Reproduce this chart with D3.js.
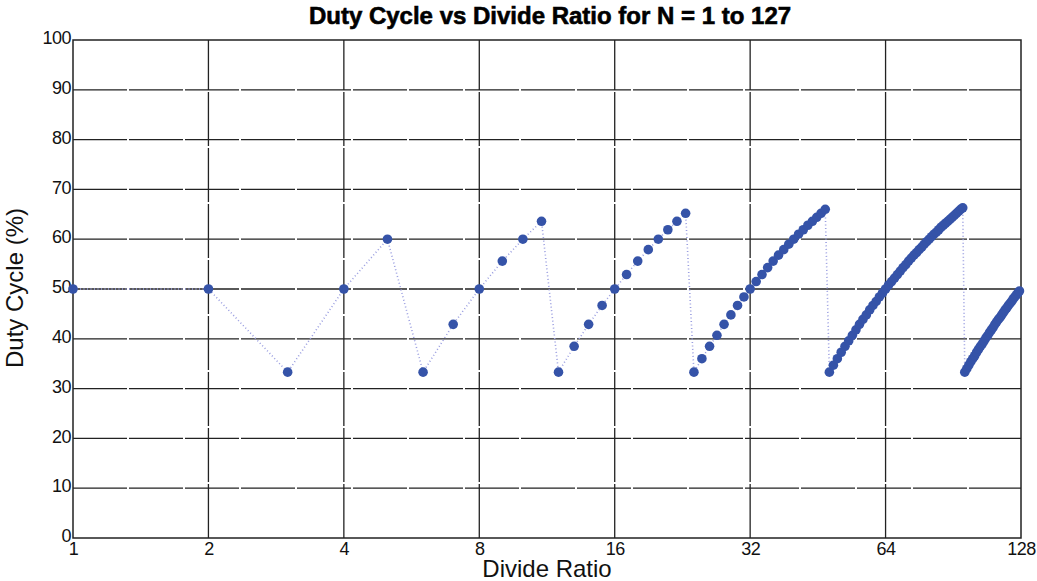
<!DOCTYPE html>
<html><head><meta charset="utf-8">
<script src="https://cdn.jsdelivr.net/npm/d3@7"></script>
<style>
html,body{margin:0;padding:0;background:#fff;}
svg text{font-family:"Liberation Sans",Arial,Helvetica,sans-serif;}
</style></head>
<body><svg id="c" width="1037" height="581"></svg>
<script>
const divideRatio = d3.range(1, 128);
const dutyCycle = [
50,50,33.3,50,60,33.3,42.9,50,55.6,60,63.6,
33.3,38.5,42.9,46.7,50,52.9,55.6,57.9,60,61.9,63.6,65.2,
33.3,36,38.5,40.7,42.9,44.8,46.7,48.4,50,51.5,52.9,54.3,55.6,56.8,57.9,59.0,60,61.0,61.9,62.8,63.6,64.4,65.2,66.0,
33.3,34.7,36,37.3,38.5,39.6,40.7,41.8,42.9,43.9,44.8,45.8,46.7,47.5,48.4,49.2,50,50.8,51.5,52.2,52.9,53.6,54.3,54.9,55.6,56.2,56.8,57.3,57.9,58.4,59.0,59.5,60,60.5,61.0,61.4,61.9,62.4,62.8,63.2,63.6,64.0,64.4,64.8,65.2,65.6,66.0,66.3,
33.3,34.0,34.7,35.4,36,36.6,37.3,37.9,38.5,39.0,39.6,40.2,40.7,41.3,41.8,42.3,42.9,43.4,43.9,44.3,44.8,45.3,45.8,46.2,46.7,47.1,47.5,48.0,48.4,48.8,49.2,49.6
];
const xTicks = [1,2,4,8,16,32,64,128];
const yTicks = [0,10,20,30,40,50,60,70,80,90,100];
const titleText = "Duty Cycle vs Divide Ratio for N = 1 to 127";
const xLabel = "Divide Ratio";
const yLabel = "Duty Cycle (%)";

const data = divideRatio.map((n,i)=>({n, d: dutyCycle[i]}));
const L=73, R=1021, T=40, B=538;
const svg = d3.select("#c");
const x = d3.scaleLog().base(2).domain([1,128]).range([L,R]);
const y = d3.scaleLinear().domain([0,100]).range([B,T]);

// grid
const g = svg.append("g");
g.selectAll(".hg").data(yTicks.slice(1,-1)).enter().append("line")
 .attr("x1",L).attr("x2",R).attr("y1",d=>y(d)).attr("y2",d=>y(d))
 .attr("stroke","#222").attr("stroke-width",1.3).attr("stroke-dasharray","54 2");
g.selectAll(".vg").data(xTicks.slice(1,-1)).enter().append("line")
 .attr("y1",B).attr("y2",T).attr("x1",d=>x(d)).attr("x2",d=>x(d))
 .attr("stroke","#222").attr("stroke-width",1.3).attr("stroke-dasharray","54 2");

// axes
const xAxis = d3.axisBottom(x).tickValues(xTicks).tickFormat(d3.format("d")).tickSize(0).tickPadding(4);
const yAxis = d3.axisLeft(y).tickValues(yTicks).tickSize(0).tickPadding(2);
const gx = svg.append("g").attr("transform",`translate(0,${B})`).call(xAxis);
const gy = svg.append("g").attr("transform",`translate(${L},0)`).call(yAxis);
[gx,gy].forEach(a=>{a.select(".domain").remove(); a.selectAll("text").attr("font-size",18).attr("fill","#111").attr("font-family","Liberation Sans, Arial, sans-serif").attr("letter-spacing","-0.5");});
gy.selectAll("text").attr("dy","0.2em");

// frame
svg.append("rect").attr("x",L).attr("y",T).attr("width",R-L).attr("height",B-T)
 .attr("fill","none").attr("stroke","#222").attr("stroke-width",1.5);

// dotted line
const line = d3.line().x(d=>x(d.n)).y(d=>y(d.d));
svg.append("path").datum(data).attr("d",line).attr("fill","none")
 .attr("stroke","#9a9ee0").attr("stroke-width",1.6).attr("stroke-dasharray","1 2.5");

// markers
svg.append("g").selectAll("circle").data(data).enter().append("circle")
 .attr("cx",d=>x(d.n)).attr("cy",d=>y(d.d)).attr("r",4.8).attr("fill","#3553a8");

// labels
svg.append("text").attr("x",550).attr("y",24).attr("text-anchor","middle")
 .attr("font-size",24).attr("font-weight","bold").attr("fill","#000")
 .attr("stroke","#000").attr("stroke-width",0.6).text(titleText);
svg.append("text").attr("x",547).attr("y",577).attr("text-anchor","middle")
 .attr("font-size",24).attr("fill","#111").text(xLabel);
svg.append("text").attr("transform",`translate(23,288) rotate(-90)`).attr("text-anchor","middle")
 .attr("font-size",24).attr("fill","#111").text(yLabel);
</script></body></html>
